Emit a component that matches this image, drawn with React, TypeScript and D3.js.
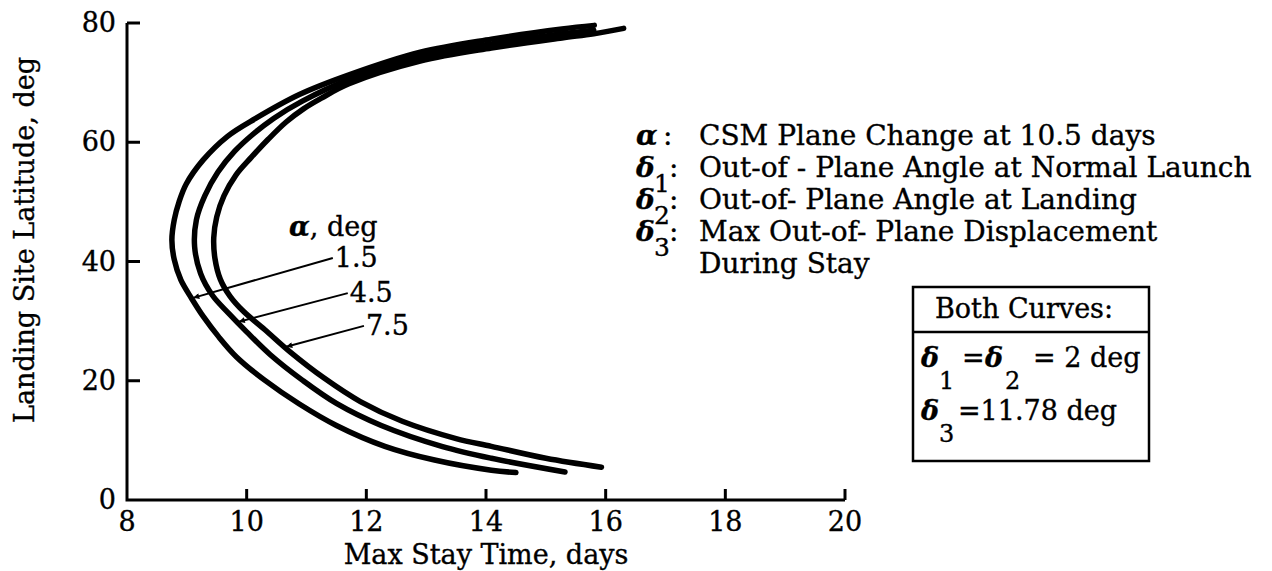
import React from "react";
import * as d3 from "d3";

type Pt = [number, number];

// Max stay time (days), landing site latitude (deg) — one curve per alpha
const curveAlpha15: Pt[] = [
  [14.5, 4.6], [14.09, 5.0], [13.14, 6.7], [12.31, 9.0], [11.5, 12.5],
  [10.88, 16.1], [10.3, 20.1], [9.83, 24.0], [9.53, 27.4], [9.28, 30.7],
  [9.08, 33.8], [8.9, 36.9], [8.79, 40.3], [8.75, 43.6], [8.79, 47.0],
  [8.87, 50.0], [8.99, 53.0], [9.27, 57.0], [9.68, 61.0], [10.15, 64.0],
  [10.88, 68.0], [11.71, 71.3], [12.9, 75.1], [14.09, 77.3], [15.27, 79.0],
  [15.81, 79.6],
];
const curveAlpha45: Pt[] = [
  [15.32, 4.7], [14.09, 7.0], [13.26, 9.0], [12.25, 12.5], [11.5, 16.2],
  [10.93, 20.1], [10.39, 24.4], [10.0, 28.2], [9.7, 31.3], [9.43, 34.3],
  [9.23, 38.0], [9.13, 42.5], [9.16, 47.0], [9.3, 51.0], [9.52, 55.0],
  [9.8, 58.5], [10.1, 61.3], [10.45, 64.0], [10.93, 66.9], [11.71, 70.5],
  [12.9, 74.3], [14.09, 76.5], [15.27, 78.2], [15.8, 78.8],
];
const curveAlpha75: Pt[] = [
  [15.93, 5.5], [15.0, 7.0], [14.09, 9.0], [13.5, 10.3], [12.6, 13.2],
  [11.9, 16.5], [11.3, 20.4], [10.73, 24.8], [10.3, 28.6], [9.95, 31.6],
  [9.72, 34.2], [9.56, 37.0], [9.47, 40.5], [9.45, 44.0], [9.5, 47.5],
  [9.62, 51.0], [9.82, 54.5], [10.08, 57.5], [10.36, 60.5], [10.66, 63.4],
  [10.95, 65.6], [11.25, 67.4], [11.71, 69.8], [12.9, 73.6], [14.09, 75.8],
  [15.27, 77.5], [15.8, 78.2], [16.3, 79.1],
];

const series = [curveAlpha15, curveAlpha45, curveAlpha75];
const alphaLabels = ["1.5", "4.5", "7.5"];
// label anchors of the leader lines (days, deg) and latitude where each arrow meets its curve
const leaderStarts: Pt[] = [[11.44, 40.6], [11.69, 34.7], [11.96, 29.2]];
const leaderTipLats = [33.9, 29.9, 25.7];

const xTicks = [8, 10, 12, 14, 16, 18, 20];
const yTicks = [0, 20, 40, 60, 80];

const legendSymbols = ["α", "δ", "δ", "δ", ""];
const legendSubs = ["", "1", "2", "3", ""];
const legendTexts = [
  "CSM Plane Change at 10.5 days",
  "Out-of - Plane Angle at Normal Launch",
  "Out-of- Plane Angle at Landing",
  "Max Out-of- Plane Displacement",
  "During Stay",
];

const FONT = "'DejaVu Serif', serif";
const FS = 27;

// x (days) on the lower branch of a curve at a given latitude
function lowerBranchX(pts: Pt[], lat: number): number {
  for (let i = 0; i < pts.length - 1; i++) {
    const [x0, y0] = pts[i];
    const [x1, y1] = pts[i + 1];
    if (y1 < y0) continue;
    if (lat >= y0 && lat <= y1) {
      const t = (lat - y0) / (y1 - y0 || 1);
      return x0 + t * (x1 - x0);
    }
  }
  return pts[0][0];
}

export default function App() {
  const x = d3.scaleLinear().domain([8, 20]).range([127, 845]);
  const y = d3.scaleLinear().domain([0, 80]).range([500, 23]);
  const line = d3
    .line<Pt>()
    .x((d) => x(d[0]))
    .y((d) => y(d[1]))
    .curve(d3.curveCatmullRom.alpha(0.5));

  const legendY0 = 145;
  const legendDy = 32;
  const txt = { stroke: "#000", strokeWidth: 0.35 } as const;

  return (
    <svg
      width={1272}
      height={571}
      style={{ position: "absolute", left: 0, top: 0, background: "#fff" }}
      fontFamily={FONT}
      fontSize={FS}
    >
      <defs>
        <marker
          id="arr"
          viewBox="0 0 10 10"
          refX="10"
          refY="5"
          markerWidth="10"
          markerHeight="6"
          markerUnits="userSpaceOnUse"
          orient="auto"
        >
          <path d="M0,0 L10,5 L0,10 z" fill="#000" />
        </marker>
      </defs>
      <rect x={0} y={0} width={1272} height={571} fill="#fff" />

      {/* axes */}
      <path
        d={`M${x(8)},${y(80)} L${x(8)},${y(0)} L${x(20)},${y(0)}`}
        fill="none"
        stroke="#000"
        strokeWidth={3}
      />
      {yTicks.slice(1).map((t) => (
        <line key={"yt" + t} x1={x(8)} x2={x(8) + 13} y1={y(t)} y2={y(t)} stroke="#000" strokeWidth={3} />
      ))}
      {xTicks.slice(1).map((t) => (
        <line key={"xt" + t} x1={x(t)} x2={x(t)} y1={y(0)} y2={y(0) - 11} stroke="#000" strokeWidth={3} />
      ))}
      <g {...txt}>
        {yTicks.map((t) => (
          <text key={"yl" + t} x={x(8) - 11} y={y(t) + 9} textAnchor="end">
            {t}
          </text>
        ))}
        {xTicks.map((t) => (
          <text key={"xl" + t} x={x(t)} y={531} textAnchor="middle">
            {t}
          </text>
        ))}
        <text x={486} y={564} textAnchor="middle">
          Max Stay Time, days
        </text>
        <text transform={`translate(34,240) rotate(-90)`} textAnchor="middle">
          Landing Site Latitude, deg
        </text>
      </g>

      {/* curves */}
      {series.map((s, i) => (
        <path
          key={"c" + i}
          d={line(s) || ""}
          fill="none"
          stroke="#000"
          strokeWidth={5.5}
          strokeLinecap="round"
          strokeLinejoin="round"
        />
      ))}

      {/* alpha annotations */}
      <g {...txt}>
        <text x={289} y={236}>
          <tspan fontWeight="bold" fontStyle="italic">α</tspan>, deg
        </text>
        {alphaLabels.map((lab, i) => (
          <text key={"al" + i} x={x(leaderStarts[i][0]) + 2} y={y(leaderStarts[i][1]) + 9}>
            {lab}
          </text>
        ))}
      </g>
      {alphaLabels.map((lab, i) => (
        <line
          key={"ld" + i}
          x1={x(leaderStarts[i][0])}
          y1={y(leaderStarts[i][1])}
          x2={x(lowerBranchX(series[i], leaderTipLats[i])) + 2}
          y2={y(leaderTipLats[i])}
          stroke="#000"
          strokeWidth={2}
          markerEnd="url(#arr)"
        />
      ))}

      {/* legend */}
      <g {...txt} fontSize={28}>
        {legendTexts.map((t, i) => {
          const by = legendY0 + i * legendDy;
          return (
            <g key={"lg" + i}>
              {legendSymbols[i] && (
                <text x={636} y={by} fontWeight="bold" fontStyle="italic">
                  {legendSymbols[i]}
                </text>
              )}
              {legendSubs[i] && (
                <text x={654} y={by + 15} fontSize={25}>
                  {legendSubs[i]}
                </text>
              )}
              {legendSymbols[i] && (
                <text x={i === 0 ? 663 : 669} y={by}>
                  :
                </text>
              )}
              <text x={699} y={by}>
                {t}
              </text>
            </g>
          );
        })}
      </g>

      {/* box */}
      <rect x={913} y={287} width={236} height={174} fill="none" stroke="#000" strokeWidth={2.5} />
      <line x1={913} x2={1149} y1={332} y2={332} stroke="#000" strokeWidth={2.5} />
      <g {...txt}>
        <text x={935} y={318}>Both Curves:</text>
        <text x={921} y={367} fontWeight="bold" fontStyle="italic">δ</text>
        <text x={939} y={389} fontSize={24}>1</text>
        <text x={962} y={367}>=</text>
        <text x={985} y={367} fontWeight="bold" fontStyle="italic">δ</text>
        <text x={1005} y={389} fontSize={24}>2</text>
        <text x={1033} y={367}>= 2 deg</text>
        <text x={921} y={420} fontWeight="bold" fontStyle="italic">δ</text>
        <text x={939} y={442} fontSize={24}>3</text>
        <text x={958} y={420}>=11.78 deg</text>
      </g>
    </svg>
  );
}
